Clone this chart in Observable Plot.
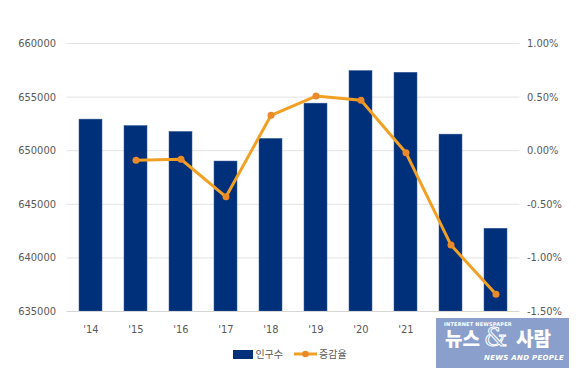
<!DOCTYPE html>
<html><head><meta charset="utf-8">
<script src="https://cdn.jsdelivr.net/npm/d3@7"></script>
<script src="https://cdn.jsdelivr.net/npm/@observablehq/plot@0.6"></script>
<style>
body{margin:0;background:#fff;}
#wrap{position:relative;width:580px;height:378px;overflow:hidden;}
#legend{position:absolute;left:0;top:346px;width:580px;display:flex;justify-content:center;align-items:center;font-family:"Noto Sans CJK KR",sans-serif;font-size:10px;color:#595959;}
.lg{display:flex;align-items:center;margin:0 3px;}
#wm{position:absolute;left:436px;top:318px;width:133px;height:50px;background:#8A9FCB;color:#fff;font-family:"Noto Sans CJK KR",sans-serif;}
</style></head>
<body><div id="wrap"><div id="chart"></div>
<div id="legend">
 <div class="lg"><svg width="20" height="10"><rect x="0" y="1" width="20" height="9" fill="#00307A"/></svg><span style="margin-left:2px">인구수</span></div>
 <div class="lg" style="margin-left:8px"><svg width="23" height="10"><line x1="0" y1="5" x2="23" y2="5" stroke="#F2A024" stroke-width="3"/><circle cx="11.5" cy="5" r="3.3" fill="#EA8A2A"/></svg><span style="margin-left:2px">증감율</span></div>
</div>
<div id="wm">
 <div style="position:absolute;left:8px;top:3px;font-size:5px;font-weight:bold;font-family:'DejaVu Sans',sans-serif;letter-spacing:0.2px">INTERNET NEWSPAPER</div>
 <div style="position:absolute;left:9px;top:8px;font-size:19px;font-weight:900;line-height:24px">뉴스</div>
 <div style="position:absolute;left:48px;top:5px;font-size:26px;font-weight:300;line-height:28px;color:transparent;-webkit-text-stroke:1px #fff;font-family:'DejaVu Serif',serif">&amp;</div>
 <div style="position:absolute;left:80px;top:8px;font-size:19px;font-weight:900;line-height:24px">사람</div>
 <div style="position:absolute;left:48px;top:36px;font-size:7px;font-weight:bold;font-style:italic;font-family:'DejaVu Sans',sans-serif;letter-spacing:0.3px">NEWS AND PEOPLE</div>
</div>
</div>
<script>
const years = ["'14","'15","'16","'17","'18","'19","'20","'21","'22","'23"];
const population = [652900, 652300, 651750, 648990, 651100, 654390, 657430, 657270, 651500, 642720];
const rateYears = ["'15","'16","'17","'18","'19","'20","'21","'22","'23"];
const rates = [-0.09, -0.08, -0.43, 0.33, 0.51, 0.47, -0.02, -0.88, -1.34];
const leftTicks = [635000, 640000, 645000, 650000, 655000, 660000];
const rightTickLabels = ["-1.50%","-1.00%","-0.50%","0.00%","0.50%","1.00%"];

const popData = years.map((y,i)=>({year:y, pop:population[i]}));
// secondary axis mapped onto primary: 0% -> 650000, 1% -> 660000
const toPrimary = r => 650000 + r*10000;
const rateData = rateYears.map((y,i)=>({year:y, rate:rates[i], yv:toPrimary(rates[i])}));
const base = leftTicks[0];

const font = '"Liberation Sans Narrow","Arial Narrow","DejaVu Sans Condensed",sans-serif';
const chart = Plot.plot({
  width:580, height:340,
  marginTop:43, marginBottom:29, marginLeft:66.5, marginRight:60.5,
  style:{fontFamily:font, fontSize:"11px", color:"#595959", background:"#fff"},
  x:{domain:years, paddingInner:0.5, paddingOuter:0.25, label:null},
  y:{domain:[635000,660000], label:null},
  marks:[
    Plot.ruleY(leftTicks.slice(1), {stroke:"#E3E3E3", strokeWidth:1}),
    Plot.barY(popData, {x:"year", y1:base, y2:"pop", fill:"#00307A", stroke:"#3B5E9E", strokeWidth:0.5}),
    Plot.ruleY([base], {stroke:"#D6D6D6", strokeWidth:1}),
    Plot.line(rateData, {x:"year", y:"yv", stroke:"#F2A024", strokeWidth:3}),
    Plot.dot(rateData, {x:"year", y:"yv", r:3.5, fill:"#EA8A2A"}),
    Plot.axisY(leftTicks, {anchor:"left", tickSize:0, tickPadding:11, tickFormat:d=>String(d), fill:"#595959"}),
    Plot.axisY(leftTicks, {anchor:"right", tickSize:0, tickPadding:7, textAnchor:"start", tickFormat:(d,i)=>rightTickLabels[i], fill:"#595959"}),
    Plot.axisX({tickSize:0, tickPadding:14, fill:"#595959"})
  ]
});
document.getElementById("chart").appendChild(chart);
</script>
</body></html>
